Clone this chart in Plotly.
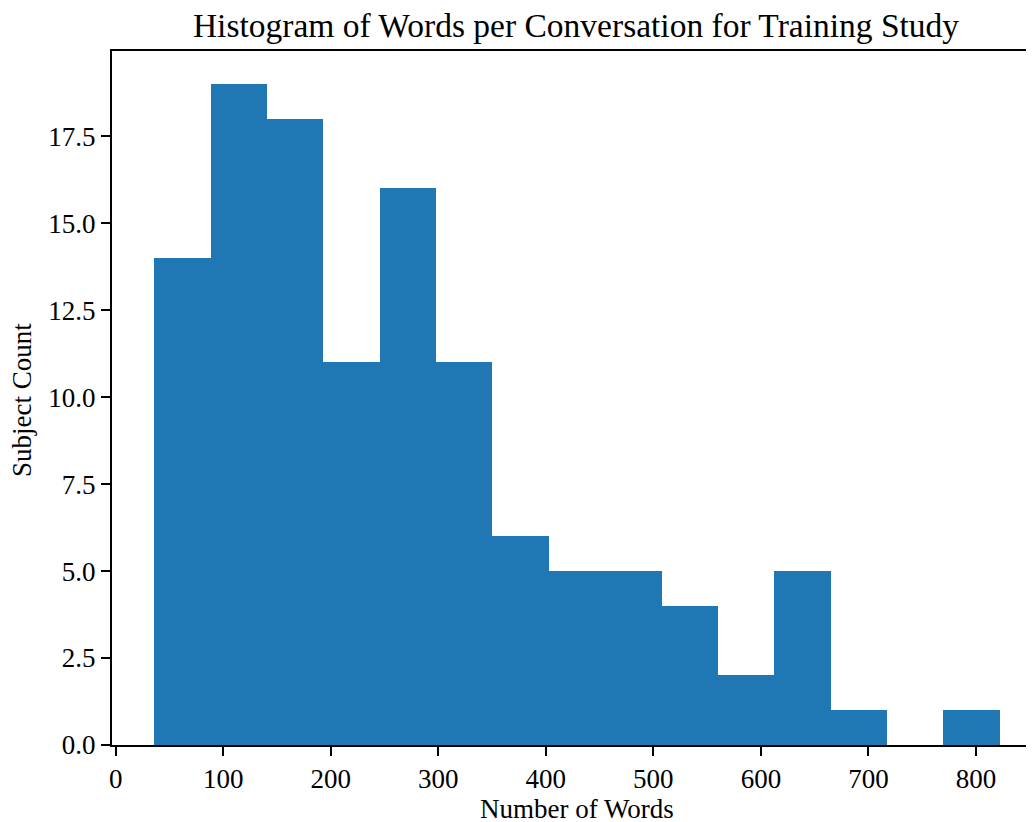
import plotly.graph_objects as go

# Histogram bin edges (number of words) and subject counts per bin
bin_edges = [35.9, 88.3, 140.7, 193.1, 245.5, 297.9, 350.4, 402.8, 455.2,
             507.6, 560.0, 612.4, 664.8, 717.3, 769.7, 822.1]
counts = [14, 19, 18, 11, 16, 11, 6, 5, 5, 4, 2, 5, 1, 0, 1]
x_ticks = [0, 100, 200, 300, 400, 500, 600, 700, 800]
y_ticks = [0, 2.5, 5, 7.5, 10, 12.5, 15, 17.5]

centers = [(a + b) / 2 for a, b in zip(bin_edges[:-1], bin_edges[1:])]
widths = [b - a for a, b in zip(bin_edges[:-1], bin_edges[1:])]

FONT = "Liberation Serif"
W, H = 1034, 822
OFF = 8  # default page body margin shifts the figure by 8px
L, T, B = 112 - OFF, 51 - OFF, 745 - OFF  # plot box in figure coords

fig = go.Figure(go.Bar(
    x=centers, y=counts, width=widths,
    marker=dict(color="#1f77b4", line=dict(width=0)),
))

fig.update_layout(
    width=W, height=H,
    margin=dict(l=L, r=0, t=T, b=H - B, autoexpand=False),
    plot_bgcolor="white", paper_bgcolor="white",
    bargap=0, showlegend=False,
    font=dict(family=FONT, color="black", size=27),
    title=dict(text="Histogram of Words per Conversation for Training Study",
               x=(576 - OFF) / W, xref="container", xanchor="center",
               y=1 - (25 - OFF) / H, yref="container", yanchor="middle",
               font=dict(family=FONT, size=33.5, color="black")),
    annotations=[
        dict(text="Number of Words", xref="paper", yref="paper",
             x=(577 - OFF - L) / (W - L), y=-(809 - OFF - B) / (B - T),
             xanchor="center", yanchor="middle", showarrow=False,
             font=dict(family=FONT, size=27, color="black")),
        dict(text="Subject Count", xref="paper", yref="paper",
             x=-(L - (22 - OFF)) / (W - L), y=(B - (400 - OFF)) / (B - T),
             xanchor="center", yanchor="middle", showarrow=False, textangle=-90,
             font=dict(family=FONT, size=27, color="black")),
    ],
)

fig.update_xaxes(
    range=[-3.4, 861.4], tickvals=x_ticks, ticktext=[str(v) for v in x_ticks],
    showgrid=False, zeroline=False, automargin=False,
    showline=True, linecolor="black", linewidth=2, mirror=True,
    ticks="outside", ticklen=9, tickwidth=1.6, tickcolor="black",
    tickfont=dict(family=FONT, size=27),
)
fig.update_yaxes(
    range=[0, 19.95], tickvals=y_ticks, ticktext=[f"{v:.1f}" for v in y_ticks],
    showgrid=False, zeroline=False, automargin=False,
    showline=True, linecolor="black", linewidth=2, mirror=False,
    ticks="outside", ticklen=9, tickwidth=1.6, tickcolor="black",
    tickfont=dict(family=FONT, size=27),
)

fig.write_html("out.html")
